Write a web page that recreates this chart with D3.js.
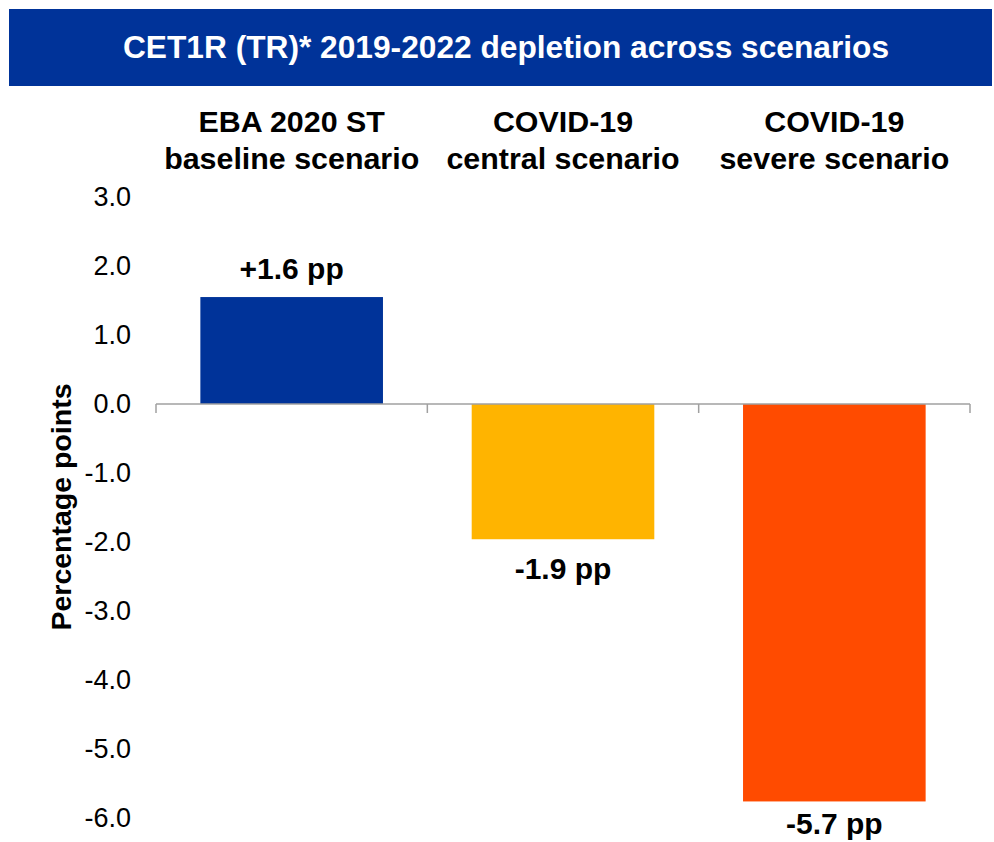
<!DOCTYPE html>
<html>
<head>
<meta charset="utf-8">
<script src="https://cdn.jsdelivr.net/npm/d3@7"></script>
<style>
  html, body { margin: 0; padding: 0; background: #ffffff; }
  svg { display: block; font-family: "Liberation Sans", Arial, sans-serif; }
</style>
</head>
<body>
<svg id="chart" width="994" height="842"></svg>
<script>
// ---- data ----
const categories = [
  ["EBA 2020 ST", "baseline scenario"],
  ["COVID-19", "central scenario"],
  ["COVID-19", "severe scenario"]
];
const values = [1.55, -1.96, -5.76];
const valueLabels = ["+1.6 pp", "-1.9 pp", "-5.7 pp"];
const barColors = ["#003399", "#FFB400", "#FF4B00"];
const yTicks = [3, 2, 1, 0, -1, -2, -3, -4, -5, -6];
const titleText = "CET1R (TR)* 2019-2022 depletion across scenarios";
const yAxisTitle = "Percentage points";

// ---- layout ----
const svg = d3.select("#chart");
const W = 994, H = 842;
const plotLeft = 156, plotRight = 970;

const x = d3.scaleBand()
  .domain(d3.range(categories.length))
  .range([plotLeft, plotRight])
  .paddingInner(0.327)
  .paddingOuter(0.1635);

const y = d3.scaleLinear().domain([-6, 3]).range([818, 197]);

// title banner
svg.append("rect")
  .attr("x", 9).attr("y", 9).attr("width", 983).attr("height", 77)
  .attr("fill", "#003399");
svg.append("text")
  .attr("x", 506).attr("y", 58)
  .attr("text-anchor", "middle")
  .attr("fill", "#ffffff")
  .attr("font-weight", "bold")
  .attr("font-size", 31.7)
  .text(titleText);

// category labels on top
const catG = svg.append("g");
categories.forEach((lines, i) => {
  const cx = x(i) + x.bandwidth() / 2;
  lines.forEach((ln, j) => {
    catG.append("text")
      .attr("x", cx).attr("y", 132 + j * 37)
      .attr("text-anchor", "middle")
      .attr("font-weight", "bold")
      .attr("font-size", 30.4)
      .attr("fill", "#000")
      .text(ln);
  });
});

// y axis labels (no line)
const yAxis = d3.axisLeft(y)
  .tickValues(yTicks)
  .tickFormat(d3.format(".1f"))
  .tickSize(0)
  .tickPadding(0);
const yG = svg.append("g")
  .attr("transform", "translate(131,0)")
  .call(yAxis);
yG.select(".domain").remove();
yG.selectAll("text")
  .attr("font-size", 27)
  .attr("font-family", "'Liberation Sans', Arial, sans-serif")
  .attr("fill", "#000")
  .text(d => d3.format(".1f")(d).replace("−", "-"));

// y axis title
svg.append("text")
  .attr("transform", "translate(71,507) rotate(-90)")
  .attr("text-anchor", "middle")
  .attr("font-weight", "bold")
  .attr("font-size", 28.5)
  .attr("fill", "#000")
  .text(yAxisTitle);

// bars
svg.append("g").selectAll("rect")
  .data(values)
  .join("rect")
  .attr("x", (d, i) => x(i))
  .attr("width", x.bandwidth())
  .attr("y", d => y(Math.max(0, d)))
  .attr("height", d => Math.abs(y(d) - y(0)))
  .attr("fill", (d, i) => barColors[i]);

// x axis line at zero with boundary ticks
const step = x.step();
const bounds = d3.range(categories.length + 1).map(i => plotLeft + i * step);
const axG = svg.append("g");
axG.append("line")
  .attr("x1", plotLeft).attr("x2", plotRight)
  .attr("y1", y(0)).attr("y2", y(0))
  .attr("stroke", "#a0a0a0").attr("stroke-width", 1.5);
axG.selectAll("line.tick")
  .data(bounds)
  .join("line")
  .attr("class", "tick")
  .attr("x1", d => d).attr("x2", d => d)
  .attr("y1", y(0)).attr("y2", y(0) + 9)
  .attr("stroke", "#a0a0a0").attr("stroke-width", 1.5);

// value labels
svg.append("g").selectAll("text")
  .data(values)
  .join("text")
  .attr("x", (d, i) => x(i) + x.bandwidth() / 2)
  .attr("y", d => d >= 0 ? y(d) - 18 : Math.min(y(d) + 40, H - 8))
  .attr("text-anchor", "middle")
  .attr("font-weight", "bold")
  .attr("font-size", 30)
  .attr("fill", "#000")
  .text((d, i) => valueLabels[i]);
</script>
</body>
</html>
